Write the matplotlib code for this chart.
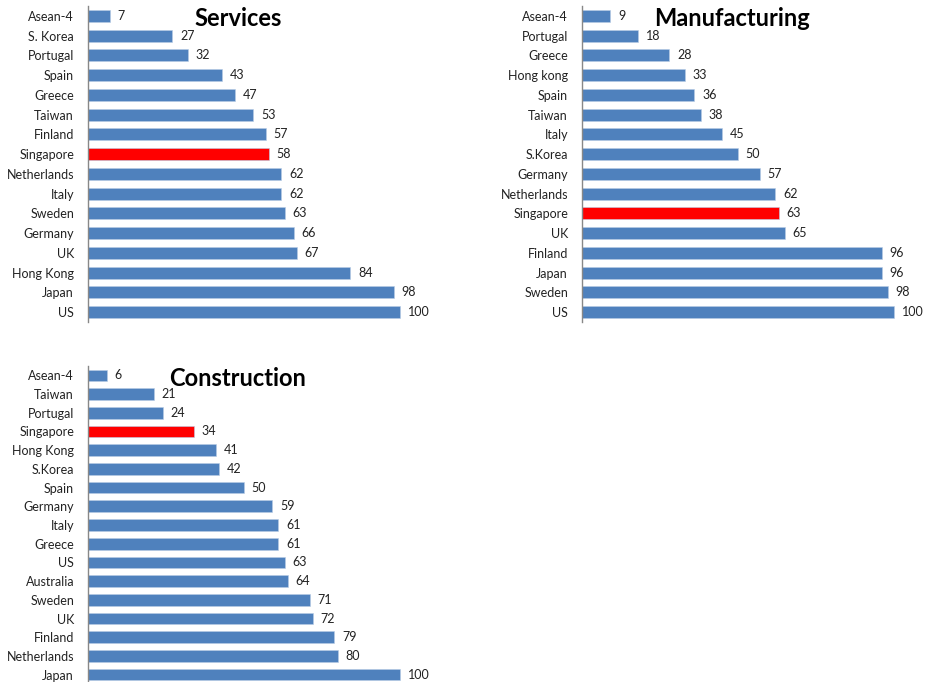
import matplotlib
matplotlib.use("Agg")
import matplotlib.pyplot as plt

plt.rcParams["font.family"] = ["Lato", "DejaVu Sans"]

# data, listed top to bottom as in the chart
services_labels = ["Asean-4", "S. Korea", "Portugal", "Spain", "Greece", "Taiwan", "Finland",
                   "Singapore", "Netherlands", "Italy", "Sweden", "Germany", "UK",
                   "Hong Kong", "Japan", "US"]
services_values = [7, 27, 32, 43, 47, 53, 57, 58, 62, 62, 63, 66, 67, 84, 98, 100]

manuf_labels = ["Asean-4", "Portugal", "Greece", "Hong kong", "Spain", "Taiwan", "Italy",
                "S.Korea", "Germany", "Netherlands", "Singapore", "UK", "Finland",
                "Japan", "Sweden", "US"]
manuf_values = [9, 18, 28, 33, 36, 38, 45, 50, 57, 62, 63, 65, 96, 96, 98, 100]

constr_labels = ["Asean-4", "Taiwan", "Portugal", "Singapore", "Hong Kong", "S.Korea", "Spain",
                 "Germany", "Italy", "Greece", "US", "Australia", "Sweden", "UK", "Finland",
                 "Netherlands", "Japan"]
constr_values = [6, 21, 24, 34, 41, 42, 50, 59, 61, 61, 63, 64, 71, 72, 79, 80, 100]

BLUE = "#4F81BD"
RED = "#FF0000"
W, H = 926, 682
PX_PER_UNIT = 3.12


def panel(fig, rect_px, labels, values, title, title_x):
    left, top, width, height = rect_px
    ax = fig.add_axes([left / W, 1 - (top + height) / H, width / W, height / H])
    n = len(labels)
    pos = list(range(n))
    colors = [RED if lab == "Singapore" else BLUE for lab in labels]
    ax.barh(pos, values, height=0.62, color=colors, edgecolor="#B9CDE5", linewidth=0.4)
    for p, v in zip(pos, values):
        ax.text(v + 2.5, p, str(v), va="center", ha="left", fontsize=9, color="#222222")
    ax.set_ylim(n - 0.5, -0.5)
    ax.set_xlim(0, width / PX_PER_UNIT)
    ax.set_yticks(pos)
    ax.set_yticklabels(labels, fontsize=9, color="#222222")
    ax.tick_params(axis="y", length=0, pad=10)
    ax.set_xticks([])
    for s in ["top", "right", "bottom"]:
        ax.spines[s].set_visible(False)
    ax.spines["left"].set_color("#888888")
    ax.spines["left"].set_linewidth(1.0)
    ax.text(title_x, 0.15, title, fontsize=17, fontweight="bold", ha="center", va="center")
    return ax


fig = plt.figure(figsize=(W / 100, H / 100), dpi=100)

panel(fig, (88, 6, 350, 316), services_labels, services_values, "Services", 48)
panel(fig, (582, 6, 340, 316), manuf_labels, manuf_values, "Manufacturing", 48)
panel(fig, (88, 366, 350, 318), constr_labels, constr_values, "Construction", 48)

fig.savefig("out.png", dpi=100)
